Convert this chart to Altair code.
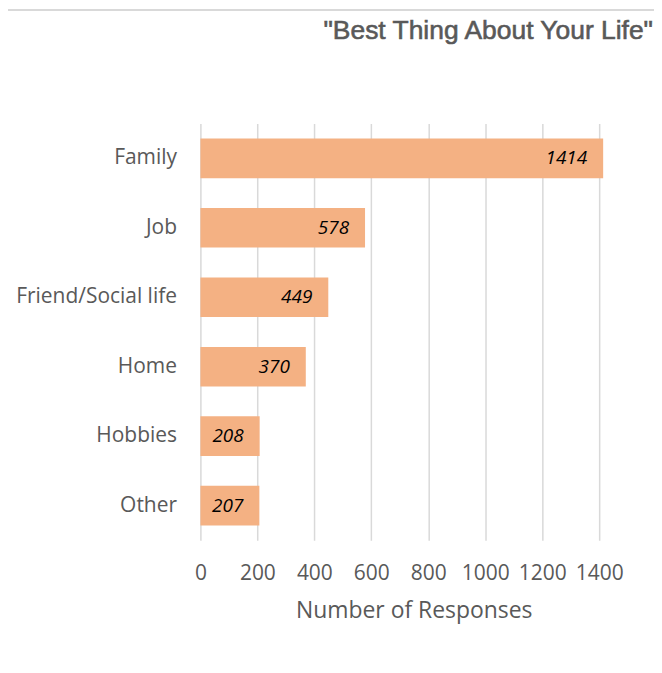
import altair as alt
import pandas as pd

chart_title = ['"Best Thing About Your Life"']
categories = ["Family", "Job", "Friend/Social life", "Home", "Hobbies", "Other"]
responses = [1414, 578, 449, 370, 208, 207]
x_ticks = [0, 200, 400, 600, 800, 1000, 1200, 1400]

df = pd.DataFrame({"category": categories, "responses": responses})
title_df = pd.DataFrame({"t": chart_title})

GRAY = "#595959"

y_enc = alt.Y(
    "category:N",
    sort=categories,
    scale=alt.Scale(paddingInner=0.43, paddingOuter=0.215),
    axis=alt.Axis(
        title=None,
        labelFont="Open Sans",
        labelFontSize=21,
        labelColor=GRAY,
        labelPadding=24,
        ticks=False,
        tickSize=0,
        domain=False,
        grid=False,
    ),
)

x_enc = alt.X(
    "responses:Q",
    scale=alt.Scale(domain=[0, 1400], nice=False),
    axis=alt.Axis(
        values=x_ticks,
        format="d",
        title="Number of Responses",
        titleFont="Open Sans",
        titleFontSize=23,
        titleFontWeight="normal",
        titleColor=GRAY,
        titleX=214,
        titleY=77,
        titleBaseline="alphabetic",
        labelFont="Open Sans",
        labelFontSize=21,
        labelColor=GRAY,
        labelPadding=22,
        labelFlush=False,
        labelOverlap=False,
        ticks=False,
        tickSize=0,
        domain=False,
        grid=True,
        gridColor="#d9d9d9",
        gridWidth=1.5,
    ),
)

base = alt.Chart(df)

bars = base.mark_bar(color="#F4B183").encode(x=x_enc, y=y_enc)

labels = base.mark_text(
    align="right",
    baseline="middle",
    dx=-16,
    font="Open Sans",
    fontStyle="italic",
    fontSize=19,
    color="#000000",
).encode(
    x="responses:Q",
    y=alt.Y("category:N", sort=categories),
    text=alt.Text("responses:Q", format="d"),
)

title_text = alt.Chart(title_df).mark_text(
    align="right",
    baseline="alphabetic",
    font="Liberation Sans",
    fontSize=26.5,
    color=GRAY,
    stroke=GRAY,
    strokeWidth=0.6,
).encode(x=alt.value(454), y=alt.value(-85), text="t:N")

top_line = alt.Chart(title_df).mark_rule(
    color="#d9d9d9", strokeWidth=2
).encode(x=alt.value(-193), x2=alt.value(455), y=alt.value(-114))

chart = (
    alt.layer(bars, labels, title_text, top_line)
    .properties(
        width=400,
        height=418,
        autosize=alt.AutoSizeParams(type="none"),
        padding={"left": 193, "top": 115, "right": 55, "bottom": 100},
        background="white",
    )
    .configure_view(stroke=None)
)

chart.save("out.html", embed_options={"renderer": "svg", "actions": False})
